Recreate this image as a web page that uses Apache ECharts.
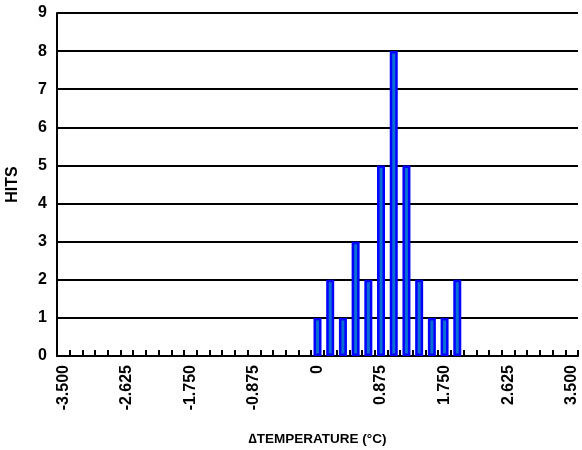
<!DOCTYPE html>
<html>
<head>
<meta charset="utf-8">
<script src="https://cdn.jsdelivr.net/npm/echarts@6/dist/echarts.min.js"></script>
<style>
	html, body { margin: 0; padding: 0; background: #fff; }
	#chart { width: 582px; height: 450px; }
</style>
</head>
<body>
<div id="chart"></div>
<script>
// bins of 0.175 degC, from -3.5 to 3.5
var bins = ['-3.500','-3.325','-3.150','-2.975','-2.800','-2.625','-2.450','-2.275','-2.100','-1.925',
	'-1.750','-1.575','-1.400','-1.225','-1.050','-0.875','-0.700','-0.525','-0.350','-0.175',
	'0','0.175','0.350','0.525','0.700','0.875','1.050','1.225','1.400','1.575',
	'1.750','1.925','2.100','2.275','2.450','2.625','2.800','2.975','3.150','3.325','3.500'];
var hits = [0,0,0,0,0,0,0,0,0,0,
	0,0,0,0,0,0,0,0,0,0,
	1,2,1,3,2,5,8,5,2,1,
	1,2,0,0,0,0,0,0,0,0,0];
var yTicks = [0,1,2,3,4,5,6,7,8,9];

// empty bins get no bar (otherwise the border shows on the axis)
var barData = hits.map(function(v){
	return v === 0 ? '-' : v;
});

var font = 'Liberation Sans, Arial, sans-serif';
var chart = echarts.init(document.getElementById('chart'));
chart.setOption({
	animation: false,
	grid: { left: 57, right: 4, top: 13, bottom: 94, outerBoundsMode: 'none' },
	xAxis: {
		type: 'category',
		data: bins,
		name: '\u2206TEMPERATURE (\u00b0C)',
		nameLocation: 'middle',
		nameGap: 76,
		nameTextStyle: { fontFamily: font, fontWeight: 'bold', fontSize: 13.5, color: '#000' },
		axisLine: { lineStyle: { color: '#000', width: 2 } },
		axisTick: { show: true, inside: true, length: 6, interval: 0, lineStyle: { color: '#000', width: 2 } },
		axisLabel: {
			interval: 4,
			rotate: 90,
			margin: 9,
			fontFamily: font,
			fontWeight: 'bold',
			fontSize: 16,
			color: '#000'
		}
	},
	yAxis: {
		type: 'value',
		min: yTicks[0],
		max: yTicks[yTicks.length - 1],
		interval: 1,
		name: 'HITS',
		nameLocation: 'middle',
		nameRotate: 90,
		nameGap: 36,
		nameTextStyle: { fontFamily: font, fontWeight: 'bold', fontSize: 16, color: '#000' },
		axisLine: { show: true, lineStyle: { color: '#000', width: 2 } },
		axisTick: { show: false },
		splitLine: { show: true, lineStyle: { color: '#000', width: 2 } },
		axisLabel: { margin: 10, fontFamily: font, fontWeight: 'bold', fontSize: 16, color: '#000' }
	},
	series: [{
		type: 'bar',
		data: barData,
		barWidth: 8,
		itemStyle: { color: '#0a6ed2', borderColor: '#0000ff', borderWidth: 2.5 }
	}]
});
</script>
</body>
</html>
